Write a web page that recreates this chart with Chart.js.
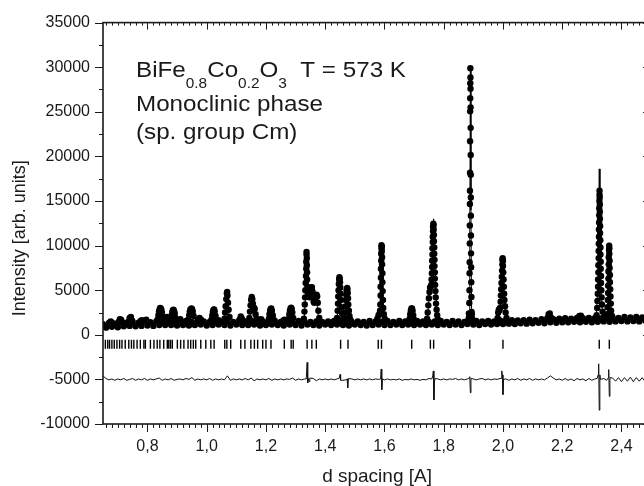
<!DOCTYPE html>
<html><head><meta charset="utf-8">
<script src="https://cdn.jsdelivr.net/npm/chart.js@4.4.1/dist/chart.umd.min.js"></script>
<style>html,body{margin:0;padding:0;overflow:hidden;background:#fff}
#wrap{width:644px;height:486px;overflow:hidden;position:relative}
canvas{display:block}</style>
</head><body>
<div id="wrap"><canvas id="c" width="657" height="486"></canvas></div>
<script>
// ---------- data ----------
const D_START = 0.65, D_STEP = 0.01;   // background sampling grid (d spacing, A)

// observed background intensity, one value per grid step 0.65 ... 2.50
const obsBackground = [
 1200, 800,1300, 900,1250, 850,1400, 950,1300,1000,
 1450, 950,1350,1000,1500,1050,1400,1000,1500,1100,
 1450,1100,1600,1100,1450,1050,1500,1100,1550,1050,
 1400,1100,1600,1150,1500,1050,1450,1100,1550,1150,
 1400,1100,1500,1050,1450,1150,1600,1100,1500,1100,
 1550,1150,1450,1050,1500,1100,1450,1150,1550,1100,
 1450,1050,1500,1150,1400,1100,1550,1050,1500,1150,
 1450,1100,1500,1050,1450,1150,1500,1100,1550,1150,
 1400,1100,1500,1050,1450,1150,1500,1100,1450,1050,
 1550,1100,1500,1150,1450,1100,1550,1100,1450,1150,
 1550,1100,1500,1150,1450,1100,1550,1150,1500,1100,
 1450,1150,1500,1100,1550,1150,1450,1100,1550,1150,
 1500,1100,1450,1200,1500,1150,1550,1100,1500,1200,
 1550,1150,1500,1200,1600,1200,1600,1250,1650,1200,
 1600,1300,1650,1250,1700,1300,1650,1350,1750,1300,
 1800,1400,1750,1350,1800,1400,1850,1400,1800,1450,
 1900,1400,1850,1450,1900,1400,1850,1450,1800,1500,
 1900,1450,1950,1500,1900,1550,2000,1500,1950,1550,
 2000,1500,1950,1600,2000,1550
];

// observed points on the Bragg peaks [d, intensity]
const obsPeaks = [
 [0.672,1350],[0.676,1500],[0.680,1350],
 [0.703,1450],[0.707,1750],[0.711,1700],[0.715,1400],
 [0.736,1500],[0.740,1900],[0.744,2000],[0.748,1600],
 [0.777,1550],[0.781,1650],[0.792,1600],[0.796,1700],
 [0.834,1700],[0.837,2200],[0.839,2600],[0.841,2850],[0.843,3000],[0.845,2950],[0.847,2800],[0.849,2500],[0.852,2000],
 [0.862,1750],[0.866,2000],[0.870,1800],
 [0.879,1700],[0.882,2200],[0.884,2550],[0.886,2750],[0.888,2800],[0.890,2650],[0.892,2400],[0.895,1900],
 [0.906,1650],[0.911,1750],
 [0.938,1700],[0.941,2200],[0.943,2600],[0.945,2850],[0.947,2900],[0.949,2950],[0.951,2850],[0.953,2600],[0.956,2100],
 [0.971,1700],[0.976,1900],[0.981,1700],
 [1.016,1700],[1.019,2200],[1.021,2600],[1.023,2800],[1.025,2850],[1.027,2600],[1.030,2100],
 [1.040,1650],
 [1.060,1800],[1.062,2500],[1.064,3200],[1.066,4000],[1.068,4650],[1.069,4800],[1.070,4400],[1.072,3600],[1.074,2800],[1.077,2000],
 [1.111,1700],[1.115,2050],[1.119,1800],
 [1.144,1900],[1.146,2600],[1.148,3300],[1.150,3900],[1.152,4250],[1.154,4000],[1.156,3500],[1.158,3100],[1.160,3000],[1.162,2900],[1.165,2300],[1.168,1800],
 [1.179,1700],[1.184,1750],
 [1.210,1800],[1.212,2300],[1.214,2700],[1.216,2900],[1.218,2950],[1.220,2700],[1.223,2200],[1.226,1700],
 [1.259,1600],[1.263,1700],
 [1.277,1800],[1.279,2300],[1.281,2700],[1.283,2950],[1.285,3050],[1.287,2900],[1.289,2500],[1.292,1900],
 [1.328,1800],[1.330,2600],[1.331,3400],[1.332,4200],[1.333,5000],[1.334,5800],[1.335,6600],[1.336,7400],[1.336,8200],[1.337,9000],[1.337,9300],
 [1.338,8600],[1.338,7800],[1.339,7000],[1.339,6200],[1.340,5400],[1.341,4800],[1.343,4400],[1.345,4300],[1.347,4200],[1.349,4500],
 [1.351,5000],[1.353,5300],[1.355,5350],[1.357,4900],[1.359,4300],[1.361,3700],[1.363,3600],[1.365,3800],[1.367,4100],[1.369,4400],
 [1.371,4500],[1.373,4300],[1.375,3600],[1.377,2700],[1.380,1900],
 [1.440,1900],[1.442,2700],[1.443,3500],[1.444,4300],[1.445,5000],[1.446,5700],[1.447,6200],[1.448,6450],[1.449,6300],[1.450,5900],
 [1.451,5300],[1.452,4600],[1.453,3900],[1.455,3100],[1.457,2400],[1.460,1800],
 [1.466,1800],[1.468,2500],[1.469,3200],[1.470,3900],[1.471,4500],[1.472,5000],[1.474,5250],[1.475,5100],[1.476,4700],[1.477,4100],
 [1.478,3400],[1.480,2700],[1.482,2100],[1.485,1700],
 [1.576,1800],[1.580,2200],[1.583,2300],
 [1.585,2700],[1.586,3400],[1.587,4400],[1.587,5400],[1.588,6400],[1.588,7400],[1.589,8300],[1.589,9100],[1.590,9700],[1.590,10050],
 [1.591,9900],[1.591,9400],[1.592,8700],[1.592,7900],[1.593,6900],[1.593,5900],[1.594,4900],[1.595,3900],[1.596,3000],[1.598,2300],[1.601,1800],
 [1.685,1800],[1.687,2300],[1.689,2700],[1.691,2950],[1.693,2950],[1.695,2700],[1.697,2200],[1.700,1700],
 [1.744,1800],[1.746,2500],[1.748,3300],[1.750,4100],[1.752,4800],[1.754,5300],[1.756,5400],[1.758,5600],[1.759,6200],[1.760,6900],
 [1.761,7600],[1.761,8300],[1.762,9000],[1.762,9700],[1.763,10400],[1.763,11000],[1.764,11600],[1.764,12100],[1.765,12450],[1.766,12300],
 [1.766,11800],[1.767,11200],[1.767,10500],[1.768,9800],[1.768,9100],[1.769,8400],[1.769,7700],[1.770,7000],[1.770,6300],[1.771,5600],
 [1.772,4900],[1.773,4200],[1.774,3500],[1.776,2800],[1.778,2200],[1.781,1700],
 [1.884,1800],[1.885,2400],
 [1.8860,2000],[1.8865,3560],[1.8870,5000],[1.8873,6900],[1.8876,8130],[1.8879,10245],[1.8882,12250],[1.8884,14670],[1.8886,16150],
 [1.8888,18180],[1.8890,21700],[1.8892,25050],[1.8894,26530],[1.8896,28200],[1.8900,29880],
 [1.8903,28840],[1.8905,27580],[1.8907,25500],[1.8909,23200],[1.8911,20150],[1.8913,17930],[1.8915,15400],[1.8917,13360],[1.8920,11140],
 [1.8923,9130],[1.8926,7570],[1.8930,5900],[1.8935,4230],[1.8942,2560],[1.895,2300],[1.896,1800],
 [1.982,1900],[1.984,2500],[1.986,2800],[1.988,2750],[1.990,3000],[1.992,3700],[1.993,4400],[1.994,5100],[1.995,5800],[1.996,6500],
 [1.997,7200],[1.998,7900],[1.998,8400],[1.999,8600],[2.000,8300],[2.000,7700],[2.001,7000],[2.002,6200],[2.003,5400],[2.004,4600],
 [2.005,3900],[2.007,3200],[2.009,2500],[2.012,1900],
 [2.150,1850],[2.154,2300],[2.158,2400],[2.162,1950],
 [2.258,2100],[2.263,2150],
 [2.316,2200],[2.318,3000],[2.319,3800],[2.320,4600],[2.321,5400],[2.321,6200],[2.322,7000],[2.322,7800],[2.323,8600],[2.323,9400],
 [2.3235,10200],[2.324,11000],[2.324,11800],[2.3245,12600],[2.325,13400],[2.325,14200],[2.3255,15000],[2.326,15700],[2.326,16150],
 [2.3265,15400],[2.327,14600],[2.327,13800],[2.3275,13000],[2.328,12200],[2.328,11400],[2.3285,10600],[2.329,9800],[2.329,9000],
 [2.330,8200],[2.330,7400],[2.331,6600],[2.331,5800],[2.332,5000],[2.333,4200],[2.334,3400],[2.336,2600],[2.339,2000],
 [2.352,2300],[2.353,3100],[2.354,3900],[2.355,4700],[2.355,5500],[2.356,6300],[2.356,7100],[2.357,7900],[2.357,8700],[2.358,9500],
 [2.3585,10000],[2.359,9700],[2.359,9100],[2.360,8300],[2.360,7500],[2.361,6700],[2.361,5900],[2.362,5100],[2.363,4300],[2.364,3500],
 [2.365,2700],[2.368,2100]
];

// calculated profile [d, intensity]
const calcCurve = [
 [0.650,1000],[0.672,1050],[0.676,1350],[0.680,1050],[0.700,1100],[0.707,1650],[0.715,1150],[0.735,1200],[0.742,1900],[0.749,1200],
 [0.776,1250],[0.780,1550],[0.784,1250],[0.792,1250],[0.796,1600],[0.800,1250],[0.834,1300],[0.840,2700],[0.844,2950],[0.848,2700],
 [0.854,1300],[0.861,1300],[0.865,1900],[0.869,1300],[0.879,1300],[0.885,2600],[0.889,2750],[0.896,1300],[0.938,1300],[0.944,2700],
 [0.949,2850],[0.953,2600],[0.958,1300],[0.970,1300],[0.975,1800],[0.980,1300],[1.016,1300],[1.022,2700],[1.026,2750],[1.033,1300],
 [1.060,1300],[1.066,4300],[1.069,4800],[1.072,4100],[1.077,1300],[1.110,1300],[1.114,1900],[1.118,1300],[1.144,1300],[1.150,4000],
 [1.153,4250],[1.156,3500],[1.161,2900],[1.168,1300],[1.210,1300],[1.216,2800],[1.219,2850],[1.226,1300],[1.278,1300],[1.284,2900],
 [1.287,2950],[1.294,1300],[1.329,1300],[1.334,5000],[1.337,9300],[1.340,7000],[1.345,4800],[1.350,5000],[1.354,5400],[1.358,3900],
 [1.363,3700],[1.369,4500],[1.374,3000],[1.379,1300],[1.440,1300],[1.446,6000],[1.449,6450],[1.452,4200],[1.459,1300],[1.467,1300],
 [1.473,4900],[1.476,5250],[1.480,3500],[1.486,1300],[1.576,1300],[1.580,2100],[1.584,2000],[1.588,6000],[1.590,10100],[1.592,9000],
 [1.597,3000],[1.601,1350],[1.686,1350],[1.691,2900],[1.694,2800],[1.698,1350],[1.744,1350],[1.750,4000],[1.754,5300],[1.758,6000],
 [1.762,9600],[1.766,13000],[1.769,10000],[1.774,4500],[1.780,1400],[1.880,1400],[1.886,2500],[1.888,12000],[1.890,30000],[1.892,14000],
 [1.894,3000],[1.900,1400],[1.982,1450],[1.986,2700],[1.990,2900],[1.995,5500],[1.999,8600],[2.002,6000],[2.007,3000],[2.012,1500],
 [2.150,1650],[2.156,2300],[2.162,1650],[2.314,1750],[2.319,4500],[2.3225,10000],[2.325,18600],[2.3275,10500],[2.331,5000],[2.336,2500],
 [2.345,1900],[2.352,2300],[2.356,6800],[2.3585,10300],[2.361,6500],[2.366,2200],[2.380,1800],[2.500,1850]
];

// difference curve: background (same grid) and spikes [d, intensity]
const diffBackground = [
 -4600,-4900,-5050,-4950,-5100,-4950,-5050,-4900,-5100,-5000,
 -4900,-5100,-4950,-5050,-4900,-5100,-4950,-5050,-4950,-4850,
 -5100,-4950,-5050,-4900,-5100,-5000,-4950,-5050,-4900,-5000,
 -4800,-5100,-4950,-5050,-4950,-5050,-4900,-5100,-4950,-5050,
 -4950,-5050,-4600,-5100,-4950,-5050,-4950,-5050,-4900,-5050,
 -4850,-5150,-4950,-5050,-4950,-5050,-4900,-5100,-4950,-5050,
 -4950,-5050,-4950,-5000,-4850,-5100,-4950,-5050,-4950,-5000,
 -5100,-4900,-5150,-4950,-5050,-4950,-5050,-4950,-5050,-4950,
 -4900,-5100,-5050,-5100,-4950,-5050,-4950,-5050,-4950,-5050,
 -4950,-5050,-4950,-5000,-5000,-5050,-4950,-5050,-5000,-5050,
 -4950,-5100,-5000,-5050,-4950,-5050,-5000,-5100,-5000,-5050,
 -4900,-5000,-5050,-4950,-5050,-4950,-5050,-4950,-5000,-4900,
 -5050,-4950,-5050,-4950,-5000,-4950,-5050,-4950,-4900,-5050,
 -4950,-5050,-4950,-5000,-4900,-5000,-4950,-5100,-4950,-5050,
 -4900,-5100,-4950,-5050,-4900,-5100,-4950,-5050,-4950,-5050,
 -4850,-4600,-4850,-5050,-4950,-5100,-4900,-5100,-4950,-5150,
 -4900,-5050,-4950,-5150,-4900,-5100,-4950,-5000,-5000,-4900,
 -5100,-5000,-4850,-5200,-4800,-5250,-4800,-5200,-4750,-5250,
 -4800,-5200,-4800,-5250,-4850,-5150
];
const diffSpikes = [
 [1.336,-4950],[1.339,-3100],[1.341,-5400],[1.343,-4900],[1.346,-5250],[1.348,-4850],
 [1.448,-4850],[1.450,-4450],[1.452,-5100],
 [1.474,-4950],[1.476,-5950],[1.478,-4900],
 [1.587,-4950],[1.589,-3850],[1.591,-6150],[1.593,-4950],
 [1.760,-4950],[1.763,-4600],[1.765,-4050],[1.767,-7300],[1.769,-5200],[1.771,-4900],
 [1.886,-4850],[1.888,-4700],[1.890,-6500],[1.892,-4900],
 [1.994,-4900],[1.996,-4050],[1.998,-4500],[2.000,-6700],[2.002,-5000],
 [2.318,-4900],[2.321,-4500],[2.323,-3250],[2.325,-8450],[2.327,-4500],[2.329,-5000],
 [2.356,-4800],[2.357,-3900],[2.359,-6900],[2.361,-4800]
];

// Bragg reflection positions (d, A) and the level of their markers
const braggD = [
 0.658,0.666,0.672,0.680,0.688,0.697,0.706,0.714,0.725,0.737,0.746,0.754,0.765,0.776,0.788,0.793,
 0.810,0.822,0.833,0.842,0.855,0.867,0.872,0.878,0.884,0.901,0.912,0.923,0.937,0.946,0.955,0.963,
 0.980,0.997,1.014,1.025,1.061,1.068,1.081,1.115,1.129,1.149,1.161,1.172,1.189,1.200,1.217,1.262,
 1.285,1.292,1.339,1.355,1.370,1.452,1.477,1.579,1.590,1.692,1.755,1.766,1.888,2.000,2.325,2.359
];
const braggLevel = -1050;

// axes
const xTickValues = [0.8,1.0,1.2,1.4,1.6,1.8,2.0,2.2,2.4];
const yTickValues = [-10000,-5000,0,5000,10000,15000,20000,25000,30000,35000];
const X_MIN = 0.65, X_MAX = 2.5, Y_MIN = -10000, Y_MAX = 35000;
const X_MINOR = 0.02, Y_MINOR = 2500;

// ---------- build datasets ----------
const obsPts = obsBackground.map((v,i)=>({x:+(D_START+i*D_STEP).toFixed(3), y:v}))
  .concat(obsPeaks.map(p=>({x:p[0], y:p[1]})));
const calcPts = calcCurve.map(p=>({x:p[0], y:p[1]}));
const diffPts = [];
diffBackground.forEach((v,i)=>{
  const d = +(D_START+i*D_STEP).toFixed(3);
  if (!diffSpikes.some(s=>Math.abs(s[0]-d) < 0.004)) diffPts.push({x:d, y:v});
});
diffSpikes.forEach(s=>diffPts.push({x:s[0], y:s[1]}));
diffPts.sort((a,b)=>a.x-b.x);
const braggPts = braggD.map(d=>({x:d, y:braggLevel}));

const FONT = '"Liberation Sans", Arial, Helvetica, sans-serif';
const INK = '#1a1a1a';

const framePlugin = {
  id:'frame',
  afterDraw(chart){
    const {ctx, chartArea:{left,right,top,bottom}, scales:{x,y}} = chart;
    ctx.save();
    ctx.strokeStyle = INK;
    ctx.lineWidth = 1.6;
    ctx.strokeRect(left, top, right-left, bottom-top);
    ctx.lineWidth = 1;
    ctx.beginPath();
    const nx0 = Math.ceil(X_MIN/X_MINOR - 1e-6), nx1 = Math.floor(X_MAX/X_MINOR + 1e-6);
    for (let k=nx0; k<=nx1; k++){
      const px = Math.round(x.getPixelForValue(k*X_MINOR)) + 0.5;
      const major = k % 10 === 0;
      ctx.moveTo(px, bottom); ctx.lineTo(px, bottom + (major?8:4));
      ctx.moveTo(px, top); ctx.lineTo(px, top + (major?7:3));
    }
    for (let v=Y_MIN; v<=Y_MAX; v+=Y_MINOR){
      const py = Math.round(y.getPixelForValue(v)) + 0.5;
      const major = v % 5000 === 0;
      ctx.moveTo(left, py); ctx.lineTo(left - (major?8:4), py);
      ctx.moveTo(right, py); ctx.lineTo(right - (major?8:4), py);
    }
    ctx.stroke();
    // annotation
    ctx.fillStyle = INK;
    ctx.textBaseline = 'alphabetic';
    ctx.textAlign = 'left';
    ctx.translate(136, 0);
    ctx.scale(1.1, 1);
    const big = '22px ' + FONT, small = '14px ' + FONT;
    const parts = [['BiFe',big,0],['0.8',small,11],['Co',big,0],['0.2',small,11],['O',big,0],['3',small,11],['  T = 573 K',big,0]];
    let cx = 0;
    parts.forEach(([t,f,dy])=>{ ctx.font = f; ctx.fillText(t, cx, 77+dy); cx += ctx.measureText(t).width; });
    ctx.font = big;
    ctx.fillText('Monoclinic phase', 0, 111);
    ctx.fillText('(sp. group Cm)', 0, 139);
    ctx.restore();
  }
};

new Chart(document.getElementById('c'), {
  type:'scatter',
  data:{ datasets:[
    {label:'calc', data:calcPts, showLine:true, borderColor:'#000', borderWidth:1, pointRadius:0, order:1},
    {label:'obs', data:obsPts, showLine:false, pointRadius:3.2, pointBackgroundColor:'#000', pointBorderWidth:0, order:3},
    {label:'diff', data:diffPts, showLine:true, borderColor:'#111', borderWidth:1, pointRadius:0, order:1},
    {label:'bragg', data:braggPts, showLine:false, pointStyle:'line', rotation:90, pointRadius:4.5,
     pointBorderColor:'#000', pointBorderWidth:1.4, order:2}
  ]},
  options:{
    responsive:false, animation:false, devicePixelRatio:1, events:[],
    layout:{padding:{top:21,right:0,bottom:0,left:0}},
    plugins:{legend:{display:false}, tooltip:{enabled:false}},
    scales:{
      x:{type:'linear', min:X_MIN, max:X_MAX,
        afterBuildTicks:s=>{ s.ticks = xTickValues.map(v=>({value:v})); },
        afterFit:s=>{ s.height = 62; },
        ticks:{callback:v=>Number(v).toFixed(1).replace('.',','), font:{size:16,family:FONT}, color:INK, padding:13, maxRotation:0, autoSkip:false},
        grid:{display:false, drawTicks:false}, border:{display:false},
        title:{display:true, text:'d spacing [A]', font:{size:19,family:FONT,lineHeight:1}, color:INK, padding:0}
      },
      y:{type:'linear', min:Y_MIN, max:Y_MAX,
        afterBuildTicks:s=>{ s.ticks = yTickValues.map(v=>({value:v})); },
        afterFit:s=>{ s.width = 103; },
        ticks:{callback:v=>String(v), font:{size:16,family:FONT}, color:INK, padding:13, autoSkip:false},
        grid:{display:false, drawTicks:false}, border:{display:false},
        title:{display:true, text:'Intensity [arb. units]      ', font:{size:18,family:FONT}, color:INK, padding:{top:9,bottom:0}}
      }
    }
  },
  plugins:[framePlugin]
});
</script>
</body></html>
